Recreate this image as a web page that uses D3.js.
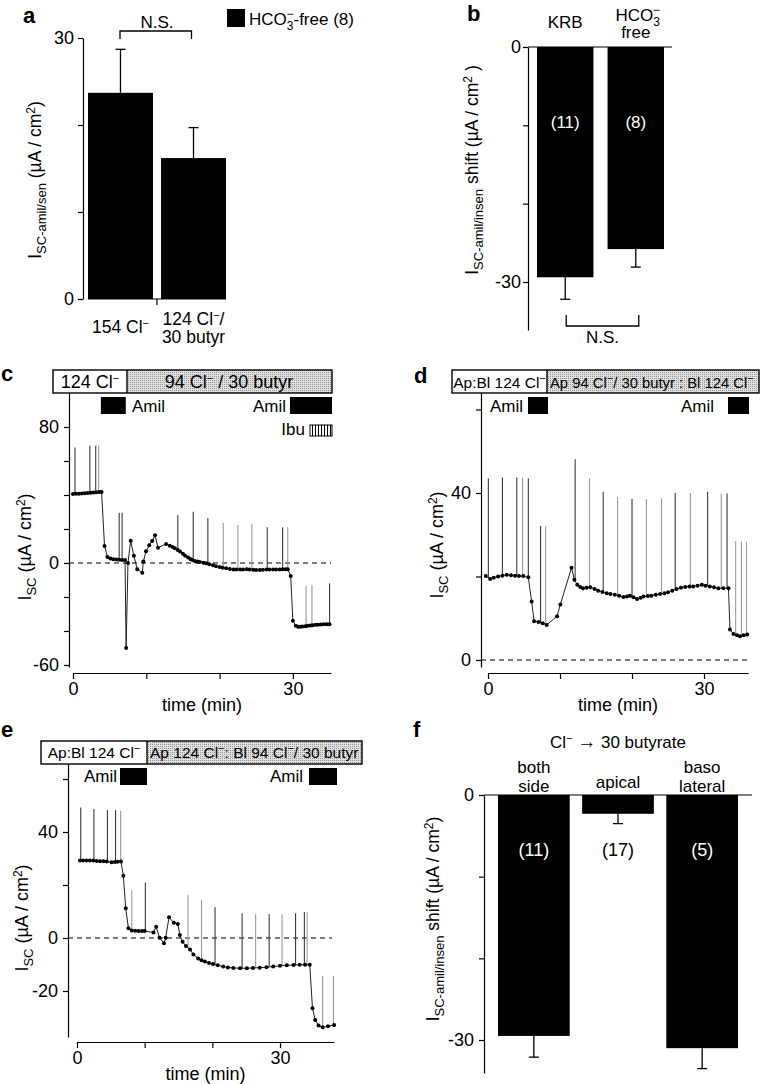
<!DOCTYPE html>
<html><head><meta charset="utf-8">
<script src="https://cdn.jsdelivr.net/npm/d3@7"></script>
<style>body{margin:0;background:#fff}svg{display:block}</style>
</head><body><script>
// ---------------- DATA ----------------
const catsA = ["154 Cl-", "124 Cl-/30 butyr"];
const meansA = [23.7, 16.2];
const semA = [5.0, 3.5];
const ticksA = [0, 10, 20, 30];

const catsB = ["KRB", "HCO3- free"];
const meansB = [-29.4, -25.8];
const semB = [2.8, 2.3];
const nB = [11, 8];
const ticksB = [0, -10, -20, -30];

const catsF = ["both side", "apical", "baso lateral"];
const meansF = [-29.5, -2.3, -31.0];
const semF = [2.6, 1.2, 2.5];
const nF = [11, 17, 5];
const ticksF = [0, -10, -20, -30];

// panel c trace [time (min), Isc]
const traceC = [[0,40.6],[0.4,40.7],[0.8,40.8],[1.2,40.9],[1.6,41.0],[2.0,41.1],[2.4,41.3],[2.8,41.5],[3.2,41.6],[3.6,41.8],[3.9,41.8],
 [4.3,10.0],[4.7,3.5],[5.1,2.6],[5.5,2.2],[5.9,2.0],[6.3,1.9],[6.7,1.8],[7.1,1.8],[7.25,-50],[7.5,0.0],[7.87,13.1],[8.3,4.3],[8.77,-3.7],
 [9.45,-5.7],[9.6,0.8],[9.96,6.9],[10.4,10.4],[10.8,12.9],[11.2,16.3],[11.6,9.0],[12.7,11.2],[13.2,10.2],[13.6,9.4],[13.9,8.6],[14.3,7.6],
 [14.6,6.7],[15.0,5.4],[15.3,4.3],[15.7,3.2],[16.0,2.4],[16.3,1.7],[16.6,1.2],[17.0,0.8],[17.3,0.6],[17.8,0.2],[18.2,-0.2],[18.6,-0.8],
 [19.1,-1.4],[19.5,-1.9],[20.0,-2.4],[20.4,-2.8],[20.9,-3.1],[21.4,-3.5],[21.9,-3.9],[22.3,-3.9],[22.8,-3.8],[23.2,-3.8],[23.7,-3.7],
 [24.1,-3.9],[24.6,-4.0],[25.0,-4.1],[25.5,-4.1],[25.9,-4.0],[26.4,-3.9],[26.8,-3.8],[27.3,-3.8],[27.7,-3.8],[28.2,-3.8],[28.6,-3.7],
 [29.0,-3.7],[29.3,-3.7],[29.7,-7.6],[30.0,-34],[30.4,-37.0],[30.7,-37.5],[31.0,-37.5],[31.3,-37.4],[31.7,-37.2],[32.0,-37.0],
 [32.4,-36.8],[32.7,-36.6],[33.1,-36.4],[33.4,-36.3],[33.8,-36.2],[34.2,-36.1],[34.6,-36.0],[35.0,-36.0]];
// [time, top of pulse, grey?]
const spikesC = [[0.27,68,0],[2.3,69,0],[3.1,69,0],[3.5,69,1],[6.3,29.6,0],[6.7,29.6,0],[7.2,-26,1],[14.3,28.2,0],[16.4,30.2,0],
 [18.4,26.5,0],[20.5,23.7,1],[22.5,22.4,1],[24.4,23,1],[26.5,21,0],[28.6,21,0],[29.3,21,1],[31.8,-13.5,1],[32.6,-13,1],[35.0,-12,0]];

const traceD = [[-0.3,20.1],[0.3,19.4],[0.8,19.7],[1.4,20.0],[2.0,20.2],[2.6,20.4],[3.2,20.3],[3.75,20.2],[4.3,20.1],[4.9,20.1],[5.6,19.8],
 [6.06,14.0],[6.4,9.3],[7.0,9.1],[7.6,8.8],[8.15,8.4],[9.6,10.5],[10.05,13.3],[11.6,22.1],[12.0,19.2],[12.4,18.0],[12.8,17.5],[13.2,17.2],
 [13.7,17.3],[14.2,17.4],[14.8,17.0],[15.3,16.6],[15.9,16.3],[16.5,16.0],[17.0,15.8],[17.6,15.6],[18.2,15.4],[18.8,15.1],[19.3,15.2],
 [19.7,15.4],[20.2,15.0],[20.7,14.6],[21.2,14.9],[21.6,15.2],[22.2,15.3],[22.7,15.4],[23.3,15.6],[23.9,15.8],[24.5,16.0],[25.0,16.2],
 [25.6,16.6],[26.2,17.0],[26.8,17.3],[27.4,17.5],[28.0,17.6],[28.5,17.6],[29.1,17.8],[29.7,18.0],[30.2,17.8],[30.8,17.6],[31.4,17.4],
 [32.0,17.2],[32.7,17.2],[33.4,17.2],[33.6,7.3],[34.1,6.2],[34.6,5.9],[35.0,5.7],[35.5,5.9],[36.0,6.1]];
const spikesD = [[0.05,43.5,0],[2.0,43.7,0],[4.0,43.7,0],[4.8,43.7,1],[5.6,43.5,0],[7.3,32.1,0],[8.0,32,1],[12.1,48.1,0],[14.1,43.5,1],
 [16.0,40.3,0],[18.0,39,1],[20.0,38.6,0],[22.0,38.5,1],[24.1,38.7,1],[26.0,40,0],[28.1,40,1],[30.5,40.3,0],[32.4,39.8,1],[33.2,39.9,0],
 [34.4,28.5,1],[35.2,28.3,1],[35.9,28.3,1]];

const traceE = [[0.44,29.2],[0.9,29.2],[1.4,29.2],[1.9,29.2],[2.4,29.2],[2.9,29.1],[3.4,29.0],[3.9,29.0],[4.4,28.9],[5.1,28.6],[5.6,28.7],
 [6.0,28.8],[6.5,28.9],[6.85,23.5],[7.2,11.2],[7.6,3.7],[8.1,2.8],[8.6,2.7],[9.1,2.6],[9.6,2.6],[10.0,2.6],[11.3,2.1],[11.7,4.2],[12.2,0.1],
 [12.85,-2.0],[13.1,0.1],[13.6,7.8],[14.3,5.8],[14.9,5.3],[15.2,1.1],[15.6,-1.4],[16.1,-3.0],[16.7,-4.3],[17.2,-6.2],[17.9,-7.7],[18.4,-8.4],
 [18.9,-8.9],[19.5,-9.4],[20.1,-9.8],[20.8,-10.3],[21.6,-10.8],[22.3,-11.1],[23.1,-11.3],[24.1,-11.4],[25.1,-11.4],[26.0,-11.3],[27.0,-11.2],
 [28.0,-11.0],[29.0,-10.8],[30.0,-10.5],[31.0,-10.3],[32.0,-10.2],[32.9,-10.1],[33.7,-10.1],[34.4,-10.1],[34.8,-26.5],[35.2,-30.9],
 [35.7,-33.0],[36.3,-33.7],[37.1,-33.3],[38.0,-32.8]];
const spikesE = [[0.55,49.2,0],[2.5,48.7,0],[4.5,48.3,0],[5.7,48.3,0],[6.45,48.0,1],[8.1,17.9,1],[10.1,20.9,0],[16.4,16.2,1],[18.4,14.3,1],
 [20.4,11.6,0],[24.4,9.3,0],[26.4,9.0,1],[28.4,9.0,0],[30.3,9.0,1],[32.3,9.3,0],[33.6,9.8,0],[34.0,9.8,1],[36.3,-14.3,1],[37.9,-14.3,1]];

// ---------------- DRAWING ----------------
const FONT = "'Liberation Sans', Arial, Helvetica, sans-serif";
const svg = d3.select("body").append("svg").attr("width",761).attr("height",1084)
  .attr("font-family",FONT).style("background","#fff");
const defs = svg.append("defs");
const stip = defs.append("pattern").attr("id","stip").attr("width",2).attr("height",2).attr("patternUnits","userSpaceOnUse");
stip.append("rect").attr("width",2).attr("height",2).attr("fill","#e0e0e0");
stip.append("rect").attr("width",1).attr("height",1).attr("fill","#959595");
const hatch = defs.append("pattern").attr("id","hatch").attr("width",3).attr("height",3).attr("patternUnits","userSpaceOnUse");
hatch.append("rect").attr("width",3).attr("height",3).attr("fill","#fff");
hatch.append("rect").attr("width",1).attr("height",3).attr("fill","#000");

const MINUS = {t:"\u2212", sh:-6, size:11};
function rich(g, x, y, parts, opt={}) {
  const t = g.append("text").attr("x",x).attr("y",y).attr("font-size",opt.size||17)
    .attr("text-anchor",opt.anchor||"start").attr("fill",opt.fill||"#000");
  let cur = 0;
  parts.forEach(p => {
    if (typeof p === "string") p = {t:p};
    const sh = p.sh||0;
    const ts = t.append("tspan").text(p.t).attr("dy", sh-cur);
    if (p.size) ts.attr("font-size", p.size);
    if (p.dx) ts.attr("dx", p.dx);
    if (p.bold) ts.attr("font-weight","bold");
    cur = sh;
  });
  return t;
}
function vlabel(cx, cy, parts, size) {
  const g = svg.append("g").attr("transform",`translate(${cx+6},${cy}) rotate(-90)`);
  rich(g, 0, 0, parts, {anchor:"middle", size:size||17});
}
function letter(s, x, y) {
  svg.append("text").text(s).attr("x",x).attr("y",y).attr("font-weight","bold").attr("font-size",22);
}
function styleAxis(ax, size) {
  ax.attr("font-family",FONT).attr("font-size",size||18);
  ax.selectAll("path,line").attr("stroke","#000").attr("stroke-width",1.2);
  ax.selectAll("text").attr("fill","#000");
}
const labelParts = {
  "154 Cl-": [["154 Cl", MINUS]],
  "124 Cl-/30 butyr": [["124 Cl", MINUS, "/"], ["30 butyr"]],
  "KRB": [["KRB"]],
  "HCO3- free": [["HCO", {t:"3",sh:5,size:12}, {t:"\u2212",sh:-7,size:12,dx:-7}], ["free"]],
  "both side": [["both"],["side"]],
  "apical": [["apical"]],
  "baso lateral": [["baso"],["lateral"]]
};

function barPanel(o) {
  const g = svg.append("g");
  const x = d3.scaleBand().domain(o.cats).range(o.xRange).paddingInner(o.pad);
  const y = d3.scaleLinear().domain(o.yDom).range(o.yRange);
  g.selectAll("rect.bar").data(o.cats).join("rect").attr("class","bar")
    .attr("x",c=>x(c)).attr("width",x.bandwidth())
    .attr("y",(c,i)=>Math.min(y(0),y(o.means[i])))
    .attr("height",(c,i)=>Math.abs(y(o.means[i])-y(0))).attr("fill","#000");
  o.cats.forEach((c,i)=>{
    const cx = x(c)+x.bandwidth()/2, v=o.means[i], e=o.sem[i]*Math.sign(v);
    g.append("line").attr("x1",cx).attr("x2",cx).attr("y1",y(v)).attr("y2",y(v+e)).attr("stroke","#000").attr("stroke-width",1.3);
    g.append("line").attr("x1",cx-5).attr("x2",cx+5).attr("y1",y(v+e)).attr("y2",y(v+e)).attr("stroke","#000").attr("stroke-width",1.3);
  });
  const ax = g.append("g").attr("transform",`translate(${o.axisX},0)`)
    .call(d3.axisLeft(y).tickValues(o.ticks).tickFormat(d=>o.tickLabels.includes(d)?String(d):"")
      .tickSize(5).tickSizeOuter(0).tickPadding(o.tp||3));
  styleAxis(ax);
  return {g,x,y};
}

// ---------- Panel a ----------
letter("a", 23, 23);
const A = barPanel({cats:catsA, means:meansA, sem:semA, xRange:[88,226], pad:0.11, yDom:[0,30], yRange:[299,38],
  axisX:83, ticks:ticksA, tickLabels:[0,30], tp:4});
{
  const b1 = A.x(catsA[0]), b2 = A.x(catsA[1]), bw = A.x.bandwidth();
  A.g.append("line").attr("x1",b1).attr("x2",b2+bw).attr("y1",A.y(0)).attr("y2",A.y(0)).attr("stroke","#000").attr("stroke-width",1.2);
  const mid = (b1+bw+b2)/2;
  A.g.append("line").attr("x1",mid).attr("x2",mid).attr("y1",A.y(0)).attr("y2",A.y(0)+6).attr("stroke","#000").attr("stroke-width",1.2);
  rich(A.g, b1+bw/2, 333, labelParts[catsA[0]][0], {anchor:"middle", size:17.5});
  rich(A.g, b2+bw/2, 325, labelParts[catsA[1]][0], {anchor:"middle", size:17.5});
  rich(A.g, b2+bw/2, 343, labelParts[catsA[1]][1], {anchor:"middle", size:17.5});
  const c1 = b1+bw/2, c2 = b2+bw/2;
  A.g.append("path").attr("d",`M${c1-0.5},39V31H${c2-2}V39`).attr("fill","none").attr("stroke","#000").attr("stroke-width",1.3);
  A.g.append("text").text("N.S.").attr("x",(c1+c2)/2).attr("y",28).attr("text-anchor","middle").attr("font-size",17);
  A.g.append("rect").attr("x",227).attr("y",9).attr("width",18).attr("height",18).attr("fill","#000");
  rich(A.g, 249, 25, ["HCO", {t:"3",sh:5,size:12}, {t:"\u2212",sh:-7,size:12,dx:-7}, {t:"-free  (8)",sh:0}], {size:17});
}
vlabel(35, 180, ["I", {t:"SC-amil/sen",sh:5,size:13}, {t:"  (\u00b5A / cm",sh:0}, {t:"2",sh:-6,size:12}, {t:")",sh:0}], 17.5);

// ---------- Panel b ----------
letter("b", 467, 21);
const B = barPanel({cats:catsB, means:meansB, sem:semB, xRange:[537,664], pad:0.2, yDom:[-36.13,0], yRange:[330,47],
  axisX:528, ticks:ticksB, tickLabels:[0,-30], tp:2});
{
  B.g.append("line").attr("x1",528).attr("x2",672).attr("y1",B.y(0)).attr("y2",B.y(0)).attr("stroke","#000").attr("stroke-width",1.2);
  const bw = B.x.bandwidth();
  catsB.forEach((c,i)=>{
    const cx = B.x(c)+bw/2;
    B.g.append("text").text(`(${nB[i]})`).attr("x",cx).attr("y",128).attr("text-anchor","middle").attr("fill","#fff").attr("font-size",17);
  });
  rich(B.g, B.x(catsB[0])+bw/2, 28, labelParts[catsB[0]][0], {anchor:"middle"});
  rich(B.g, B.x(catsB[1])+bw/2+2, 21, labelParts[catsB[1]][0], {anchor:"middle"});
  rich(B.g, B.x(catsB[1])+bw/2, 38, labelParts[catsB[1]][1], {anchor:"middle"});
  const c1 = B.x(catsB[0])+bw/2, c2 = B.x(catsB[1])+bw/2;
  B.g.append("path").attr("d",`M${c1+1},315V326H${c2+3}V315`).attr("fill","none").attr("stroke","#000").attr("stroke-width",1.3);
  B.g.append("text").text("N.S.").attr("x",(c1+c2)/2+2).attr("y",343).attr("text-anchor","middle").attr("font-size",17);
}
vlabel(472, 170, ["I", {t:"SC-amil/insen",sh:5,size:13}, {t:" shift (\u00b5A / cm",sh:0}, {t:"2",sh:-6,size:12}, {t:" )",sh:0}], 17.5);

// ---------- Trace panel helper ----------
function valAt(data, t) {
  const i = d3.bisector(d=>d[0]).left(data, t);
  if (i<=0) return data[0][1];
  if (i>=data.length) return data[data.length-1][1];
  const a = data[i-1], b = data[i];
  return a[1] + (b[1]-a[1])*(t-a[0])/(b[0]-a[0]);
}
function tracePanel(o) {
  const g = svg.append("g");
  const x = d3.scaleLinear().domain(o.xDom).range(o.xRange);
  const y = d3.scaleLinear().domain(o.yDom).range(o.yRange);
  const ay = g.append("g").attr("transform",`translate(${o.yAxisX},0)`)
    .call(d3.axisLeft(y).tickValues(o.yTicks).tickFormat(d=>o.yLabels.includes(d)?String(d):"").tickSize(5).tickSizeOuter(0).tickPadding(5));
  styleAxis(ay);
  const axx = g.append("g").attr("transform",`translate(0,${o.xAxisY})`)
    .call(d3.axisBottom(x).tickValues([0,10,20,30]).tickFormat(d=>(d===0||d===30)?String(d):"").tickSize(6).tickSizeOuter(0).tickPadding(3));
  styleAxis(axx);
  g.append("line").attr("x1",o.yAxisX).attr("x2",o.dashEnd).attr("y1",y(0)).attr("y2",y(0))
    .attr("stroke","#000").attr("stroke-width",1.2).attr("stroke-dasharray","5,4");
  g.selectAll("line.sp").data(o.spikes).join("line").attr("class","sp")
    .attr("x1",d=>x(d[0])).attr("x2",d=>x(d[0]))
    .attr("y1",d=>y(valAt(o.trace,d[0]))).attr("y2",d=>y(d[1]))
    .attr("stroke",d=>d[2]?"#9a9a9a":"#3a3a3a").attr("stroke-width",1.1);
  g.append("path").datum(o.trace).attr("d",d3.line().x(d=>x(d[0])).y(d=>y(d[1])))
    .attr("fill","none").attr("stroke","#222").attr("stroke-width",1);
  g.selectAll("circle").data(o.trace).join("circle").attr("cx",d=>x(d[0])).attr("cy",d=>y(d[1])).attr("r",2).attr("fill","#000");
  g.append("text").text("time (min)").attr("x",(o.xRange[0]+o.xRange[1])/2).attr("y",o.xAxisY+38).attr("text-anchor","middle").attr("font-size",18);
  return {g,x,y};
}
function condBox(x0, xm, x1, y0, y1) {
  svg.append("rect").attr("x",xm).attr("y",y0).attr("width",x1-xm).attr("height",y1-y0).attr("fill","url(#stip)");
  svg.append("rect").attr("x",x0).attr("y",y0).attr("width",x1-x0).attr("height",y1-y0).attr("fill","none").attr("stroke","#000").attr("stroke-width",1.4);
  svg.append("line").attr("x1",xm).attr("x2",xm).attr("y1",y0).attr("y2",y1).attr("stroke","#000").attr("stroke-width",1.4);
}
function amil(x0, x1, y0, y1, textX, baseline, anchor) {
  svg.append("rect").attr("x",x0).attr("y",y0).attr("width",x1-x0).attr("height",y1-y0).attr("fill","#000");
  svg.append("text").text("Amil").attr("x",textX).attr("y",baseline).attr("text-anchor",anchor).attr("font-size",17);
}

// ---------- Panel c ----------
letter("c", 1, 381);
const C = tracePanel({xDom:[0,35.2], xRange:[73,331], yDom:[-61.2,100], yRange:[667,393], yAxisX:69, xAxisY:673,
  yTicks:[-60,-40,-20,0,20,40,60,80], yLabels:[-60,0,80], trace:traceC, spikes:spikesC, dashEnd:331});
condBox(53, 127, 332, 370, 393);
rich(svg, 90, 388, ["124 Cl", MINUS], {anchor:"middle", size:18});
rich(svg, 229, 388, ["94 Cl", MINUS, {t:" / 30 butyr",sh:0}], {anchor:"middle", size:18});
amil(C.x(3.8), C.x(7.2), 397, 414, 132, 412, "start");
amil(C.x(29.6), 332, 397, 414, 286, 412, "end");
svg.append("rect").attr("x",310).attr("y",425).attr("width",22).attr("height",11).attr("fill","url(#hatch)").attr("stroke","#000").attr("stroke-width",1);
svg.append("text").text("Ibu").attr("x",305).attr("y",435).attr("text-anchor","end").attr("font-size",17);
vlabel(25, 547, ["I", {t:"SC",sh:5,size:13}, {t:" (\u00b5A / cm",sh:0}, {t:"2",sh:-6,size:12}, {t:")",sh:0}], 18);

// ---------- Panel d ----------
letter("d", 414, 383);
const D = tracePanel({xDom:[0,36.11], xRange:[488,748], yDom:[-1.68,63.95], yRange:[667,393], yAxisX:481, xAxisY:673,
  yTicks:[0,20,40,60], yLabels:[0,40], trace:traceD, spikes:spikesD, dashEnd:748});
condBox(452, 547, 759, 370, 393);
rich(svg, 499.5, 388, ["Ap:Bl 124 Cl", MINUS], {anchor:"middle", size:15.5});
rich(svg, 550, 388, ["Ap 94 Cl", MINUS, {t:"/ 30 butyr : Bl 124 Cl",sh:0}, MINUS], {size:14.8});
amil(528, 548, 397, 414, 523, 412, "end");
amil(728, 749, 397, 414, 714, 412, "end");
vlabel(437, 545, ["I", {t:"SC",sh:5,size:13}, {t:" (\u00b5A / cm",sh:0}, {t:"2",sh:-6,size:12}, {t:")",sh:0}], 18);

// ---------- Panel e ----------
letter("e", 1, 737);
const E = tracePanel({xDom:[0,37.98], xRange:[77,334], yDom:[-37.36,65.66], yRange:[1037,764], yAxisX:68, xAxisY:1042,
  yTicks:[-20,0,20,40,60], yLabels:[-20,0,40], trace:traceE, spikes:spikesE, dashEnd:332});
condBox(41, 147, 362, 741, 764);
rich(svg, 94, 758, ["Ap:Bl 124 Cl", MINUS], {anchor:"middle", size:15.5});
rich(svg, 150, 758, ["Ap 124 Cl", MINUS, {t:": Bl 94 Cl",sh:0}, MINUS, {t:"/ 30 butyr",sh:0}], {size:15.5});
amil(120, 147, 768, 785, 117, 782, "end");
amil(309, 337, 768, 785, 303, 782, "end");
vlabel(22, 918, ["I", {t:"SC",sh:5,size:13}, {t:" (\u00b5A / cm",sh:0}, {t:"2",sh:-6,size:12}, {t:")",sh:0}], 18);

// ---------- Panel f ----------
letter("f", 413, 737);
const F = barPanel({cats:catsF, means:meansF, sem:semF, xRange:[498,738], pad:0.148, yDom:[-34.04,0], yRange:[1073,795],
  axisX:484, ticks:ticksF, tickLabels:[0,-30], tp:5});
{
  F.g.append("line").attr("x1",484).attr("x2",752).attr("y1",F.y(0)).attr("y2",F.y(0)).attr("stroke","#000").attr("stroke-width",1.2);
  const bw = F.x.bandwidth();
  catsF.forEach((c,i)=>{
    const cx = F.x(c)+bw/2;
    const parts = labelParts[c];
    if (parts.length===2) {
      rich(F.g, cx, 773, parts[0], {anchor:"middle"});
      rich(F.g, cx, 792, parts[1], {anchor:"middle"});
    } else {
      rich(F.g, cx, 788, parts[0], {anchor:"middle"});
    }
    F.g.append("text").text(`(${nF[i]})`).attr("x",cx).attr("y",856).attr("text-anchor","middle")
      .attr("fill", Math.abs(meansF[i])>10?"#fff":"#000").attr("font-size",18);
  });
  rich(F.g, 618, 748, ["Cl", MINUS, {t:" ",sh:0}, {t:"\u2192",sh:0,bold:true,size:19}, {t:"  30 butyrate",sh:0}], {anchor:"middle"});
}
vlabel(433, 919, ["I", {t:"SC-amil/insen",sh:5,size:13}, {t:" shift (\u00b5A / cm",sh:0}, {t:"2",sh:-6,size:12}, {t:")",sh:0}], 17.5);
</script></body></html>
